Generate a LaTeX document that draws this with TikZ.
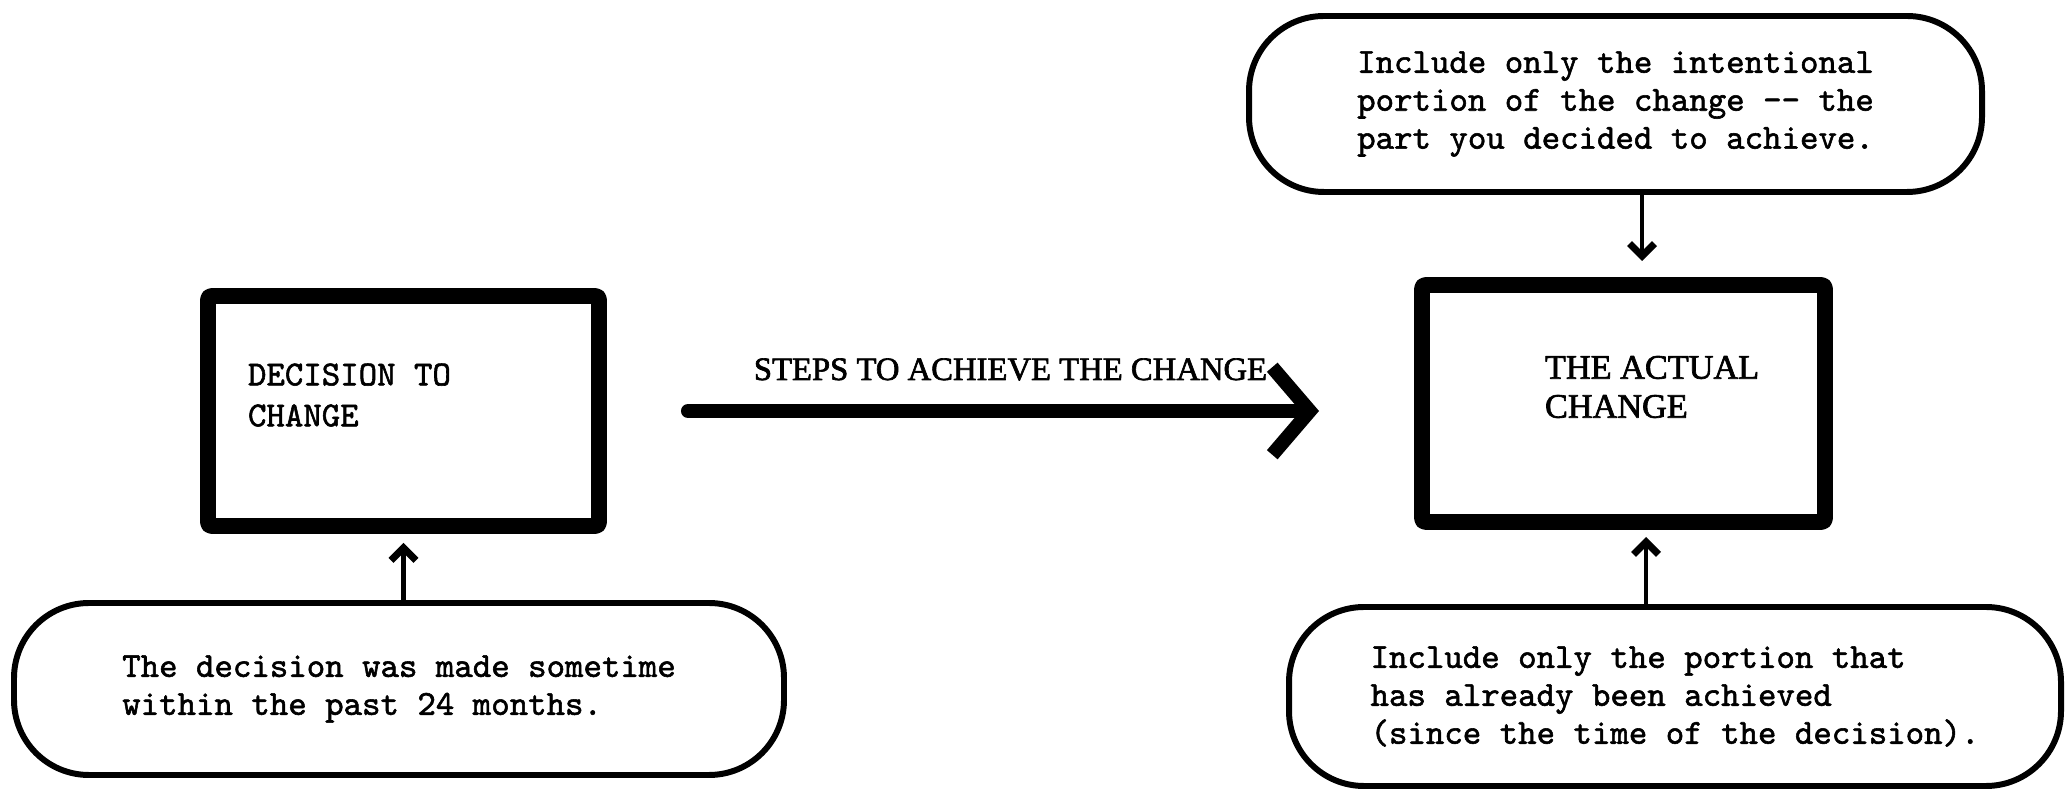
\documentclass[tikz,border=0pt]{standalone}
\usepackage{fontspec}
\newfontfamily\capsfont[FakeBold=2]{Liberation Serif}
\newfontfamily\typefont[FakeBold=1.6]{lmmono10-regular.otf}
\usetikzlibrary{arrows.meta,positioning}

\begin{document}
\begin{tikzpicture}[x=1cm,y=1cm,line join=round,every node/.style={inner sep=0pt,outer sep=0pt},frame/.style={draw,line width=9pt,rounded corners=2pt},bubble/.style={draw,line width=3.4pt,rounded corners=1.5cm,align=left,font=\typefont\fontsize{20}{21.6}\selectfont},tag/.style={align=left,anchor=north west},flow/.style={-{Straight Barb[length=0.75cm,width=1.75cm]},line width=8pt,line cap=round},hint/.style={-{Straight Barb[length=0.25cm,width=0.5cm,line width=4pt]},line width=2.8pt}]
\path[use as bounding box] (0,0) rectangle (41.36,15.82);

% the two boxes
\node[frame,minimum width=7.82cm,minimum height=4.6cm] (decision) at (8.07,7.6) {};
\node[frame,minimum width=8.06cm,minimum height=4.74cm] (actual) at (32.47,7.75) {};
\node[tag,font=\typefont\fontsize{20}{23.3}\selectfont] (decisiontext) at (4.96,8.55) {DECISION TO\\CHANGE};
\node[tag,font=\capsfont\fontsize{19.5}{22.2}\selectfont] (actualtext) at (30.9,8.7) {THE ACTUAL\\CHANGE};

% notes
\node[bubble,minimum width=15.4cm,minimum height=3.44cm] (pastnote) at (7.98,2.04) {The decision was made sometime\\within the past 24 months.};
\node[bubble,minimum width=14.66cm,minimum height=3.52cm] (topnote) at (32.31,13.74) {Include only the intentional\\portion of the change -{}- the\\part you decided to achieve.};
\node[bubble,minimum width=15.44cm,minimum height=3.58cm] (donenote) at (33.5,1.89) {Include only the portion that\\has already been achieved\\(since the time of the decision).};

% arrows
\draw[flow,shorten <=1.78cm,shorten >=2.06cm] (decision.east) -- node[font=\capsfont\fontsize{18.6}{22}\selectfont,anchor=base,yshift=0.62cm] (steps) {STEPS TO ACHIEVE THE CHANGE} (decision.east -| actual.west);
\draw[hint,shorten >=0.34cm] (pastnote.north -| decision.south) -- (decision.south);
\coordinate (tdrop) at ([xshift=0.53cm]topnote.south);
\draw[hint,shorten >=0.48cm] (tdrop) -- (tdrop |- actual.north);
\coordinate (brise) at ([xshift=-0.58cm]donenote.north);
\draw[hint,shorten >=0.3cm] (brise) -- (brise |- actual.south);

\end{tikzpicture}
\end{document}
